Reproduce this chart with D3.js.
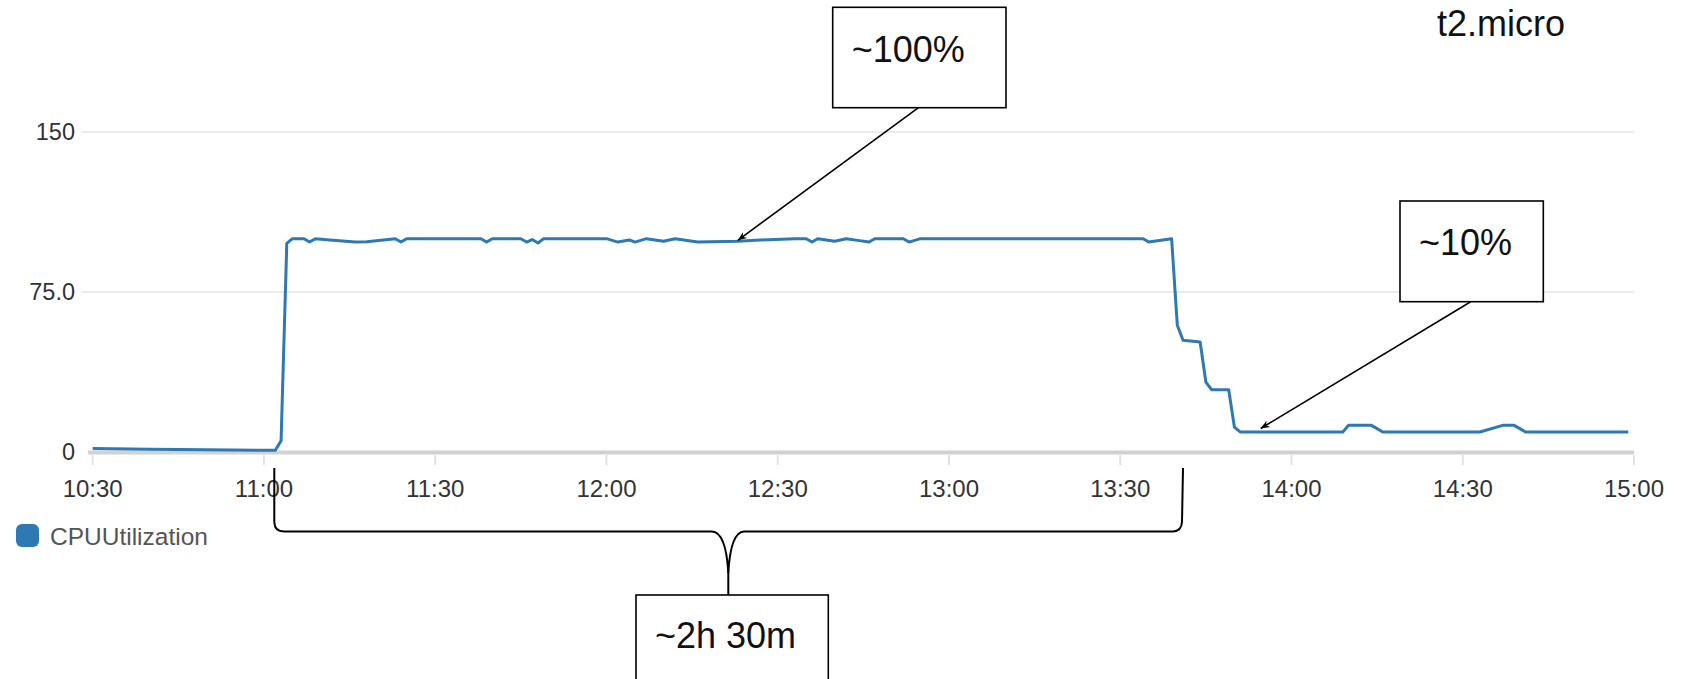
<!DOCTYPE html>
<html>
<head>
<meta charset="utf-8">
<script src="https://cdn.jsdelivr.net/npm/d3@7"></script>
<style>
  html, body { margin: 0; padding: 0; background: #fff; }
  svg { display: block; font-family: Arial, "Liberation Sans", Helvetica, sans-serif; }
</style>
</head>
<body>
<svg id="chart" width="1683" height="679"></svg>
<script>
// ---- data ----
const times = ["10:30","10:40","10:50","11:02","11:03","11:04","11:05","11:07","11:08","11:09","11:11","11:16","11:18","11:23","11:24","11:25",
  "11:38","11:39","11:40","11:45","11:46","11:47","11:48","11:49","12:00","12:02","12:04","12:05","12:07","12:10","12:12","12:16",
  "12:23","12:27","12:33","12:35","12:36","12:37","12:40","12:42","12:44","12:46","12:47","12:52","12:53","12:55","13:34","13:35",
  "13:39","13:40","13:41","13:44","13:45","13:46","13:49","13:50","13:51","14:09","14:10","14:14","14:16","14:33","14:37","14:39","14:41","14:59"];
const cpuValues = [1.6,1.3,1.0,0.8,5.3,97.8,100,100,98.4,100,99.5,98.4,98.6,100,98.4,100,
  100,98.4,100,100,98.4,99.6,98.0,100,100,98.4,99.4,98.4,100,98.8,100,98.4,
  98.8,99.4,100,100,98.4,100,98.8,100,99.2,98.4,100,100,98.4,100,100,98.4,
  100,59.4,52.4,51.6,32.8,29.2,29.2,11.7,9.4,9.4,12.5,12.5,9.4,9.4,12.5,12.5,9.4,9.4];
const seriesName = "CPUUtilization";
const yTicks = [0, 75, 150];
const yTickLabels = ["0", "75.0", "150"];
const xTickLabels = ["10:30","11:00","11:30","12:00","12:30","13:00","13:30","14:00","14:30","15:00"];
const instanceLabel = "t2.micro";
const annotations = [
  { text: "~100%", time: "12:23", value: 99.2 },
  { text: "~10%", time: "13:54:36", value: 11 }
];
const durationLabel = "~2h 30m";

// ---- setup ----
const parse = s => {
  const p = s.split(":").map(Number);
  return new Date(2020, 0, 1, p[0], p[1], p[2] || 0);
};
const data = times.map((t, i) => ({ t: parse(t), v: cpuValues[i] }));

const svg = d3.select("#chart");
const x = d3.scaleTime().domain([parse("10:30"), parse("15:00")]).range([92.7, 1634]);
const y = d3.scaleLinear().domain([0, 150]).range([452, 132]);

// gridlines
svg.append("g").selectAll("line").data(yTicks.filter(d => d > 0)).join("line")
  .attr("x1", 82).attr("x2", 1634)
  .attr("y1", d => y(d)).attr("y2", d => y(d))
  .attr("stroke", "#ebebeb").attr("stroke-width", 2);

// y labels
svg.append("g").selectAll("text").data(yTicks).join("text")
  .attr("x", 75).attr("y", d => y(d)).attr("dy", "0.36em")
  .attr("text-anchor", "end").attr("font-size", 23.5).attr("fill", "#333")
  .text((d, i) => yTickLabels[i]);

// x axis baseline
svg.append("line").attr("x1", 88).attr("x2", 1634)
  .attr("y1", y(0) + 0.5).attr("y2", y(0) + 0.5)
  .attr("stroke", "#d2d2d2").attr("stroke-width", 4);

// x ticks and labels
const xt = xTickLabels.map(parse);
svg.append("g").selectAll("line").data(xt).join("line")
  .attr("x1", d => x(d)).attr("x2", d => x(d))
  .attr("y1", 455).attr("y2", 465)
  .attr("stroke", "#e2e2e2").attr("stroke-width", 2);
svg.append("g").selectAll("text").data(xt).join("text")
  .attr("x", d => x(d)).attr("y", 497)
  .attr("text-anchor", "middle").attr("font-size", 24).attr("fill", "#333")
  .text(d => d3.timeFormat("%H:%M")(d));

// line
svg.append("path").datum(data)
  .attr("fill", "none").attr("stroke", "#2e78b3").attr("stroke-width", 3)
  .attr("stroke-linejoin", "round")
  .attr("d", d3.line().x(d => x(d.t)).y(d => y(d.v)));

// legend
svg.append("rect").attr("x", 16).attr("y", 524).attr("width", 23).attr("height", 23)
  .attr("rx", 6).attr("fill", "#2e78b3");
svg.append("text").attr("x", 50).attr("y", 545).attr("font-size", 24.5).attr("fill", "#555")
  .text(seriesName);

// instance label
svg.append("text").attr("x", 1437).attr("y", 36).attr("font-size", 36).attr("fill", "#111")
  .text(instanceLabel);

// arrow marker
const defs = svg.append("defs");
defs.append("marker").attr("id", "arr").attr("viewBox", "0 0 10 10")
  .attr("refX", 10).attr("refY", 5).attr("markerWidth", 9).attr("markerHeight", 9)
  .attr("markerUnits", "userSpaceOnUse").attr("orient", "auto")
  .append("path").attr("d", "M0,1 L10,5 L0,9 L3,5 Z").attr("fill", "#000");

// annotation boxes
const boxes = [
  { x: 832.7, y: 7.3, w: 173.3, h: 100.4, tx: 851.7, ty: 61.7, ax: 918.5 },
  { x: 1400, y: 201, w: 143.3, h: 100.7, tx: 1419, ty: 255, ax: 1470.7 }
];
annotations.forEach((a, i) => {
  const b = boxes[i];
  svg.append("line").attr("x1", b.ax).attr("y1", b.y + b.h)
    .attr("x2", x(parse(a.time))).attr("y2", y(a.value))
    .attr("stroke", "#000").attr("stroke-width", 1.6).attr("marker-end", "url(#arr)");
  svg.append("rect").attr("x", b.x).attr("y", b.y).attr("width", b.w).attr("height", b.h)
    .attr("fill", "#fff").attr("stroke", "#000").attr("stroke-width", 1.6);
  svg.append("text").attr("x", b.tx).attr("y", b.ty).attr("font-size", 36).attr("fill", "#111")
    .text(a.text);
});

// curly brace
const brace = "M274.3,468 L274.3,522 Q274.5,531.5 284,531.5 L712,531.5 Q726,532 728.3,573 " +
  "Q730.6,532 744,531.5 L1173,531.5 Q1181.5,531 1182,522 L1183,468";
svg.append("path").attr("d", brace).attr("fill", "none").attr("stroke", "#000").attr("stroke-width", 2);
svg.append("line").attr("x1", 728.3).attr("x2", 728.3).attr("y1", 570).attr("y2", 595)
  .attr("stroke", "#000").attr("stroke-width", 2);
svg.append("rect").attr("x", 636).attr("y", 595).attr("width", 192.3).attr("height", 120)
  .attr("fill", "#fff").attr("stroke", "#000").attr("stroke-width", 1.6);
svg.append("text").attr("x", 655).attr("y", 648.3).attr("font-size", 36).attr("fill", "#111")
  .text(durationLabel);
</script>
</body>
</html>
